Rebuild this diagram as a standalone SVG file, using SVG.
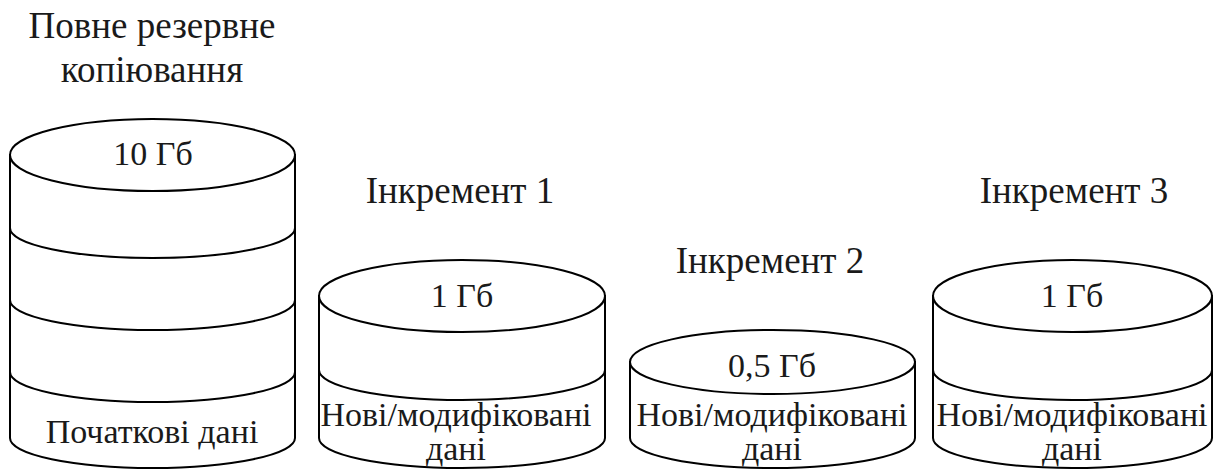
<svg xmlns="http://www.w3.org/2000/svg" width="1213" height="469" viewBox="0 0 1213 469">
  <rect width="1213" height="469" fill="#ffffff"/>

  <!-- Full backup -->
  <g id="full-backup">
    <g stroke="#000000" stroke-width="2">
      <path fill="#ffffff" d="M10,155 V438 A142.5,30 0 0 0 295,438 V155 Z"/>
      <ellipse fill="#ffffff" cx="152.5" cy="155" rx="142.5" ry="36"/>
      <path fill="none" d="M10,228 A142.5,30 0 0 0 295,228"/>
      <path fill="none" d="M10,300 A142.5,30 0 0 0 295,300"/>
      <path fill="none" d="M10,372 A142.5,30 0 0 0 295,372"/>
    </g>
    <text x="152" y="38" style="font-family: 'Liberation Serif', serif; font-size: 37px" fill="#1a1a1a" text-anchor="middle">Повне резервне</text>
    <text x="152" y="82" style="font-family: 'Liberation Serif', serif; font-size: 37px" fill="#1a1a1a" text-anchor="middle">копіювання</text>
    <text x="153" y="165" style="font-family: 'Liberation Serif', serif; font-size: 34px" fill="#1a1a1a" text-anchor="middle">10 Гб</text>
    <text x="152" y="443" style="font-family: 'Liberation Serif', serif; font-size: 34px" fill="#1a1a1a" text-anchor="middle">Початкові дані</text>
  </g>

  <!-- Increment 1 -->
  <g id="increment-1">
    <g stroke="#000000" stroke-width="2">
      <path fill="#ffffff" d="M319,296 V438 A143,30 0 0 0 605,438 V296 Z"/>
      <ellipse fill="#ffffff" cx="462" cy="296" rx="143" ry="36"/>
      <path fill="none" d="M319,370 A143,30 0 0 0 605,370"/>
    </g>
    <text x="460" y="203" style="font-family: 'Liberation Serif', serif; font-size: 37px" fill="#1a1a1a" text-anchor="middle">Інкремент 1</text>
    <text x="462" y="307" style="font-family: 'Liberation Serif', serif; font-size: 34px" fill="#1a1a1a" text-anchor="middle">1 Гб</text>
    <text x="456" y="426" style="font-family: 'Liberation Serif', serif; font-size: 34px" fill="#1a1a1a" text-anchor="middle">Нові/модифіковані</text>
    <text x="456" y="460" style="font-family: 'Liberation Serif', serif; font-size: 34px" fill="#1a1a1a" text-anchor="middle">дані</text>
  </g>

  <!-- Increment 2 -->
  <g id="increment-2">
    <g stroke="#000000" stroke-width="2">
      <path fill="#ffffff" d="M630,362 V438 A142.5,30 0 0 0 915,438 V362 Z"/>
      <ellipse fill="#ffffff" cx="772.5" cy="362" rx="142.5" ry="32"/>
    </g>
    <text x="770" y="273" style="font-family: 'Liberation Serif', serif; font-size: 37px" fill="#1a1a1a" text-anchor="middle">Інкремент 2</text>
    <text x="772" y="377" style="font-family: 'Liberation Serif', serif; font-size: 34px" fill="#1a1a1a" text-anchor="middle">0,5 Гб</text>
    <text x="772" y="426" style="font-family: 'Liberation Serif', serif; font-size: 34px" fill="#1a1a1a" text-anchor="middle">Нові/модифіковані</text>
    <text x="772" y="460" style="font-family: 'Liberation Serif', serif; font-size: 34px" fill="#1a1a1a" text-anchor="middle">дані</text>
  </g>

  <!-- Increment 3 -->
  <g id="increment-3">
    <g stroke="#000000" stroke-width="2">
      <path fill="#ffffff" d="M933,296 V438 A139.5,30 0 0 0 1212,438 V296 Z"/>
      <ellipse fill="#ffffff" cx="1072.5" cy="296" rx="139.5" ry="36"/>
      <path fill="none" d="M933,370 A139.5,30 0 0 0 1212,370"/>
    </g>
    <text x="1074" y="203" style="font-family: 'Liberation Serif', serif; font-size: 37px" fill="#1a1a1a" text-anchor="middle">Інкремент 3</text>
    <text x="1072" y="307" style="font-family: 'Liberation Serif', serif; font-size: 34px" fill="#1a1a1a" text-anchor="middle">1 Гб</text>
    <text x="1072" y="426" style="font-family: 'Liberation Serif', serif; font-size: 34px" fill="#1a1a1a" text-anchor="middle">Нові/модифіковані</text>
    <text x="1072" y="460" style="font-family: 'Liberation Serif', serif; font-size: 34px" fill="#1a1a1a" text-anchor="middle">дані</text>
  </g>

  <!-- no connectors in this figure -->
  <g id="connectors"/>
</svg>
